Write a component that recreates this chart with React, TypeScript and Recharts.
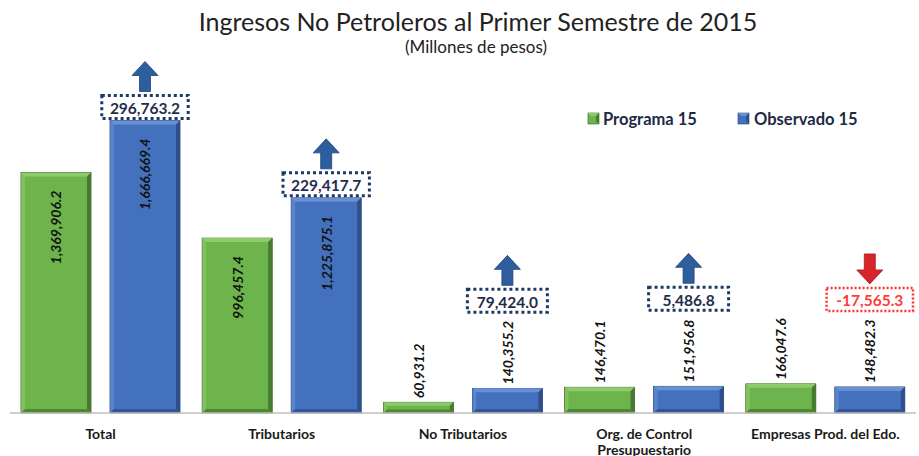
import React from 'react';
import { BarChart, Bar, XAxis, YAxis, LabelList } from 'recharts';

const categories = [
  'Total',
  'Tributarios',
  'No Tributarios',
  'Org. de Control\nPresupuestario',
  'Empresas Prod. del Edo.',
];
const programa = [1369906.2, 996457.4, 60931.2, 146470.1, 166047.6];
const observado = [1666669.4, 1225875.1, 140355.2, 151956.8, 148482.3];
const diferencia = [296763.2, 229417.7, 79424.0, 5486.8, -17565.3];

const data = categories.map((name, i) => ({
  name,
  programa: programa[i],
  observado: observado[i],
  diferencia: diferencia[i],
}));

const FONT = 'Lato, "Open Sans", sans-serif';
const fmt = (v: number) =>
  v.toLocaleString('en-US', { minimumFractionDigits: 1, maximumFractionDigits: 1 });

const palette = {
  green: { base: '#6DB44C', light: '#8FCB6C', dark: '#467A30', line: '#355E22' },
  blue: { base: '#4471BE', light: '#6A90D4', dark: '#2E4F8C', line: '#22406F' },
};

// bar with a bevelled look
const bevelShape = (colors: typeof palette.green) => (props: any) => {
  const { x, y, width, height } = props;
  if (!height || height <= 0) return null;
  const b = Math.min(4, height / 3);
  return (
    <g>
      <rect x={x} y={y} width={width} height={height} fill={colors.base} stroke={colors.line} strokeWidth={0.8} />
      <polygon points={`${x},${y} ${x + width},${y} ${x + width - b},${y + b} ${x + b},${y + b}`} fill={colors.light} />
      <polygon points={`${x},${y} ${x + b},${y + b} ${x + b},${y + height - b} ${x},${y + height}`} fill={colors.light} opacity={0.6} />
      <polygon points={`${x + width},${y} ${x + width},${y + height} ${x + width - b},${y + height - b} ${x + width - b},${y + b}`} fill={colors.dark} />
      <polygon points={`${x},${y + height} ${x + width},${y + height} ${x + width - b},${y + height - b} ${x + b},${y + height - b}`} fill={colors.dark} opacity={0.8} />
    </g>
  );
};

const valueLabel = (props: any) => {
  const { x, y, width, height, value } = props;
  const cx = x + width / 2;
  const inside = height > 100;
  const ay = inside ? y + 18 : y - 4;
  return (
    <text
      x={cx}
      y={ay}
      transform={`rotate(-90, ${cx}, ${ay})`}
      textAnchor={inside ? 'end' : 'start'}
      dominantBaseline="central"
      fontFamily={FONT}
      fontStyle="italic"
      fontWeight="bold"
      fontSize={14}
      fill="#111"
    >
      {fmt(value)}
    </text>
  );
};

const diffLabel = (props: any) => {
  const { x, y, width, height, index } = props;
  const d = diferencia[index];
  const neg = d < 0;
  const cx = x + width / 2;
  const text = fmt(d);
  const bw = Math.max(80, text.length * 7.6 + 18);
  const bh = 23;
  const bottom = height > 100 ? y - 2 : y - 76;
  const top = bottom - bh;
  const color = neg ? '#FF3B3B' : '#1F2D4D';
  const arrowColor = neg ? '#D7262B' : '#2E5E9E';
  const aBottom = top - 4;
  const aTop = aBottom - 30;
  const hw = 13;
  const sw = 5.5;
  const hh = 14;
  const arrow = neg
    ? `${cx - sw},${aTop} ${cx + sw},${aTop} ${cx + sw},${aBottom - hh} ${cx + hw},${aBottom - hh} ${cx},${aBottom} ${cx - hw},${aBottom - hh} ${cx - sw},${aBottom - hh}`
    : `${cx},${aTop} ${cx + hw},${aTop + hh} ${cx + sw},${aTop + hh} ${cx + sw},${aBottom} ${cx - sw},${aBottom} ${cx - sw},${aTop + hh} ${cx - hw},${aTop + hh}`;
  return (
    <g>
      <polygon points={arrow} fill={arrowColor} stroke={neg ? '#A81C20' : '#1F4273'} strokeWidth={0.8} />
      <rect
        x={cx - bw / 2}
        y={top}
        width={bw}
        height={bh}
        fill="#fff"
        stroke={neg ? '#FF3030' : '#1F3864'}
        strokeWidth={neg ? 2.5 : 3}
        strokeDasharray={neg ? '2 2' : '3 3'}
      />
      <text
        x={cx}
        y={top + bh / 2 + 1}
        textAnchor="middle"
        dominantBaseline="central"
        fontFamily={FONT}
        fontWeight="bold"
        fontSize={15.5}
        fill={color}
      >
        {text}
      </text>
    </g>
  );
};

const CategoryTick = (props: any) => {
  const { x, y, payload } = props;
  const lines = String(payload.value).split('\n');
  return (
    <g>
      {lines.map((line, i) => (
        <text
          key={i}
          x={x}
          y={y + 18 + i * 16}
          textAnchor="middle"
          dominantBaseline="central"
          fontFamily={FONT}
          fontWeight="bold"
          fontSize={14}
          fill="#1a1a1a"
        >
          {line}
        </text>
      ))}
    </g>
  );
};

const LegendSwatch = ({ x, colors }: { x: number; colors: typeof palette.green }) => (
  <g>
    <rect x={x} y={113} width={11} height={11} fill={colors.base} stroke={colors.line} strokeWidth={0.6} />
    <polygon points={`${x},${113} ${x + 11},${113} ${x + 8},${116} ${x + 3},${116}`} fill={colors.light} />
    <polygon points={`${x + 11},${113} ${x + 11},${124} ${x + 8},${121} ${x + 8},${116}`} fill={colors.dark} />
  </g>
);

export default function App() {
  return (
    <div style={{ position: 'absolute', left: 0, top: 0 }}>
      <BarChart
        width={919}
        height={456}
        data={data}
        margin={{ top: 62, right: 3, left: 10, bottom: 0 }}
        barGap={19}
        barSize={70}
      >
        <text x={478} y={21} textAnchor="middle" dominantBaseline="central" fontFamily={FONT} fontSize={25} fill="#222">
          Ingresos No Petroleros al Primer Semestre de 2015
        </text>
        <text x={476} y={46} textAnchor="middle" dominantBaseline="central" fontFamily={FONT} fontSize={17} fill="#222">
          (Millones de pesos)
        </text>
        <LegendSwatch x={588} colors={palette.green} />
        <text x={603} y={119} dominantBaseline="central" fontFamily={FONT} fontWeight="bold" fontSize={16.5} fill="#1c2a44">
          Programa 15
        </text>
        <LegendSwatch x={738} colors={palette.blue} />
        <text x={754} y={119} dominantBaseline="central" fontFamily={FONT} fontWeight="bold" fontSize={16.5} fill="#1c2a44">
          Observado 15
        </text>
        <XAxis
          dataKey="name"
          height={43}
          interval={0}
          tickLine={false}
          tickSize={0}
          axisLine={{ stroke: '#BFBFBF', strokeWidth: 1.5 }}
          tick={<CategoryTick />}
        />
        <YAxis hide domain={[0, 2000000]} />
        <Bar dataKey="programa" isAnimationActive={false} shape={bevelShape(palette.green)}>
          <LabelList dataKey="programa" content={valueLabel} />
        </Bar>
        <Bar dataKey="observado" isAnimationActive={false} shape={bevelShape(palette.blue)}>
          <LabelList dataKey="observado" content={valueLabel} />
          <LabelList dataKey="diferencia" content={diffLabel} />
        </Bar>
      </BarChart>
    </div>
  );
}
